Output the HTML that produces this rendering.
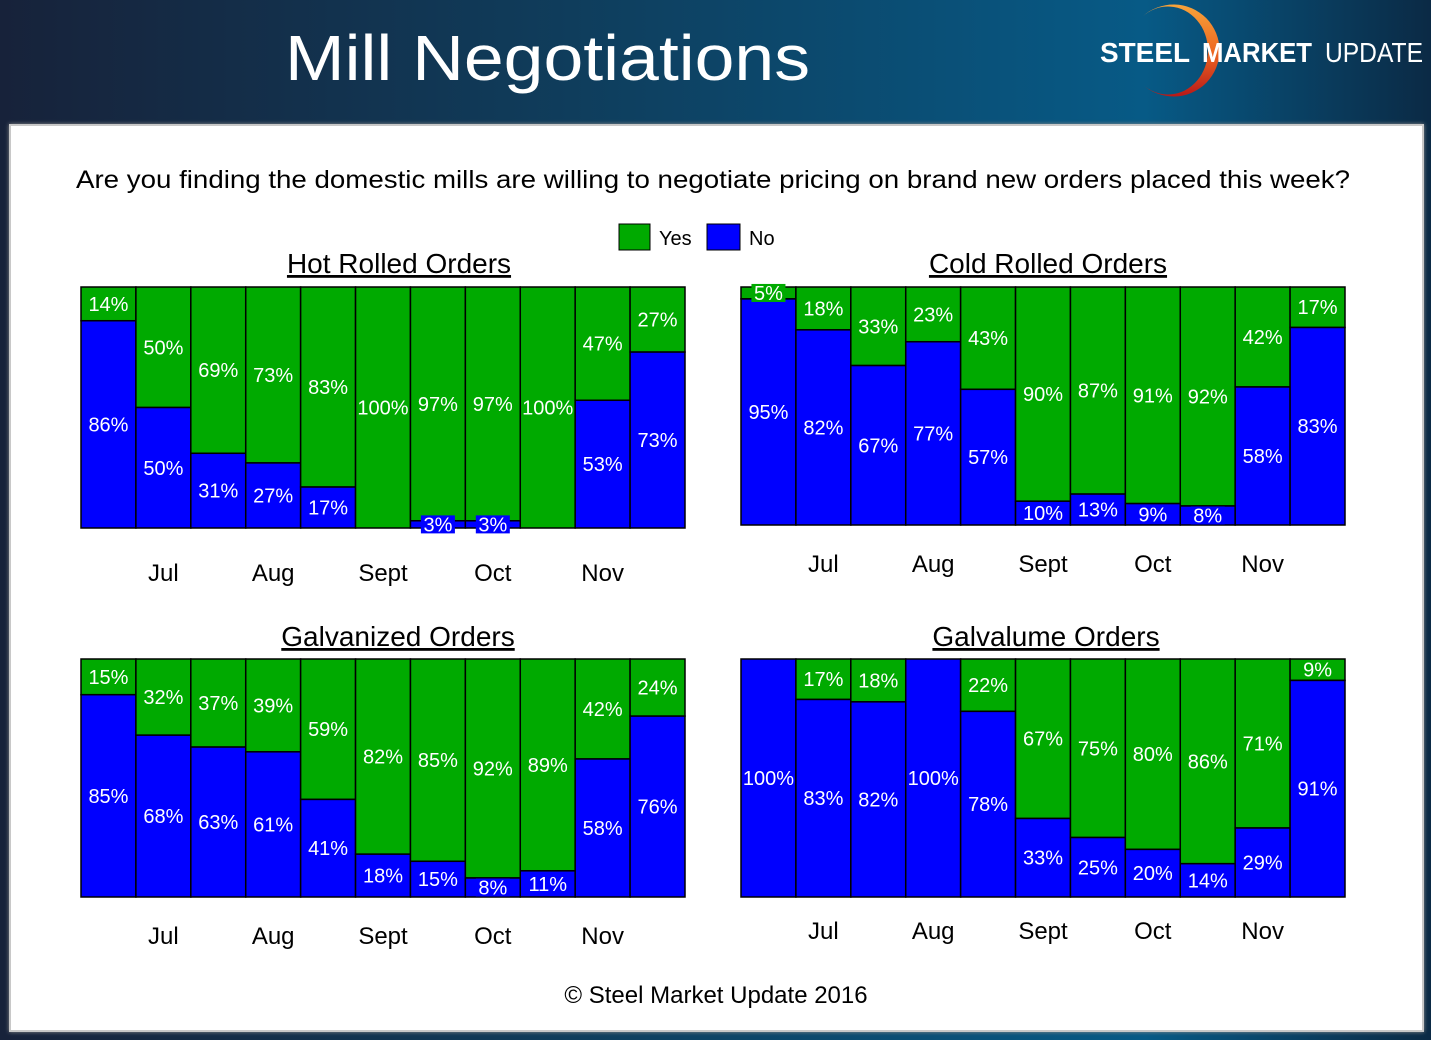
<!DOCTYPE html>
<html><head><meta charset="utf-8"><style>
body{margin:0;width:1431px;height:1040px;overflow:hidden;background:linear-gradient(90deg,#17223a 0%,#0f3d5c 40%,#075a86 80%,#0b2a45 100%);font-family:"Liberation Sans",sans-serif;position:relative}
#panel{position:absolute;left:9px;top:124px;width:1411px;height:904px;background:#fff;border:2px solid #c8c8c8;box-shadow:0 0 4px #888}
</style></head><body>
<svg style="position:absolute;left:0;top:0" width="900" height="110"><text x="285" y="80" font-family="Liberation Sans" font-size="64" fill="#fff" textLength="525" lengthAdjust="spacingAndGlyphs">Mill Negotiations</text></svg>
<svg style="position:absolute;left:1090px;top:0" width="341" height="110">
<defs><linearGradient id="lg" x1="0" y1="0" x2="0" y2="1"><stop offset="0" stop-color="#f7a33a"/><stop offset="0.5" stop-color="#ee6a22"/><stop offset="1" stop-color="#b81818"/></linearGradient></defs>
<path d="M52 17 A46 46 0 1 1 52 84 A40 44 0 1 0 52 17 Z" fill="url(#lg)"/>
<text x="10" y="62" font-family="Liberation Sans" font-weight="bold" font-size="28" fill="#fff" textLength="90" lengthAdjust="spacingAndGlyphs">STEEL</text>
<text x="112" y="62" font-family="Liberation Sans" font-weight="bold" font-size="28" fill="#fff" textLength="110" lengthAdjust="spacingAndGlyphs">MARKET</text>
<text x="235" y="62" font-family="Liberation Sans" font-size="28" fill="#fff" textLength="98" lengthAdjust="spacingAndGlyphs">UPDATE</text>
</svg>
<div id="panel"></div>
<svg id="c" width="1431" height="1040" style="position:absolute;left:0;top:0" font-family="Liberation Sans, sans-serif"></svg>
<script>
const yesHR=[14,50,69,73,83,100,97,97,100,47,27];
const yesCR=[5,18,33,23,43,90,87,91,92,42,17];
const yesGV=[15,32,37,39,59,82,85,92,89,42,24];
const yesGL=[0,17,18,0,22,67,75,80,86,71,9];
const months=['Jul','Aug','Sept','Oct','Nov'];
const titles=['Hot Rolled Orders','Cold Rolled Orders','Galvanized Orders','Galvalume Orders'];
const svg=document.getElementById('c');
const NS='http://www.w3.org/2000/svg';
function el(t,a,p){const e=document.createElementNS(NS,t);for(const k in a)e.setAttribute(k,a[k]);(p||svg).appendChild(e);return e;}
let e=el('text',{x:76,y:188,'font-size':25,fill:'#000',textLength:1274,lengthAdjust:'spacingAndGlyphs'});
e.textContent='Are you finding the domestic mills are willing to negotiate pricing on brand new orders placed this week?';


let g=el('g',{});


el('rect',{x:619,y:224,width:31,height:26,fill:'#00aa00',stroke:'#000'},g);
el('text',{x:659,y:245,'font-size':20},g).textContent='Yes';
el('rect',{x:707,y:224,width:33,height:26,fill:'#0000ff',stroke:'#000'},g);
el('text',{x:749,y:245,'font-size':20},g).textContent='No';
const charts=[[yesHR,81,685,287,528,573,399,263],[yesCR,741,1345,287,525,564,1048,263],[yesGV,81,685,659,897,936,398,636],[yesGL,741,1345,659,897,931,1046,636]];
charts.forEach((c,ci)=>{
 const [yes,x0,x1,y0,y1,my,tx,ty]=c;
 const cg=el('g',{});
 
 
 const tt=el('text',{x:tx,y:ty+10,'font-size':28,'text-anchor':'middle','text-decoration':'underline'},cg);tt.textContent=titles[ci];
 const n=yes.length,bw=(x1-x0)/n,h=y1-y0;
 const ys=v=>y0+h*v/100;
 yes.forEach((v,i)=>{
  const x=x0+i*bw,no=100-v,yb=ys(v);
  const r1=el('rect',{x:x,y:y0,width:bw,height:yb-y0,fill:'#00aa00',stroke:'#000','stroke-width':1.5},cg);
  
  
  const r2=el('rect',{x:x,y:yb,width:bw,height:y1-yb,fill:'#0000ff',stroke:'#000','stroke-width':1.5},cg);
  
  
  [[v,y0,yb,'#00aa00'],[no,yb,y1,'#0000ff']].forEach(s=>{
   if(s[0]<=0)return;const cy=(s[1]+s[2])/2,lab=s[0]+'%';
   if(s[2]-s[1]<20){el('rect',{x:x+bw/2-17,y:cy-9,width:34,height:18,fill:s[3]},cg);}
   const t=el('text',{x:x+bw/2,y:cy+7,'font-size':20,fill:'#fff','text-anchor':'middle'},cg);t.textContent=lab;
  });
 });
 months.forEach((m,k)=>{const t=el('text',{x:x0+bw*(2*k+1.5),y:my+8,'font-size':24,'text-anchor':'middle'},cg);t.textContent=m;});
});
e=el('text',{x:716,y:1003,'font-size':24,'text-anchor':'middle'});
e.textContent='© Steel Market Update 2016';


</script>
</body></html>
